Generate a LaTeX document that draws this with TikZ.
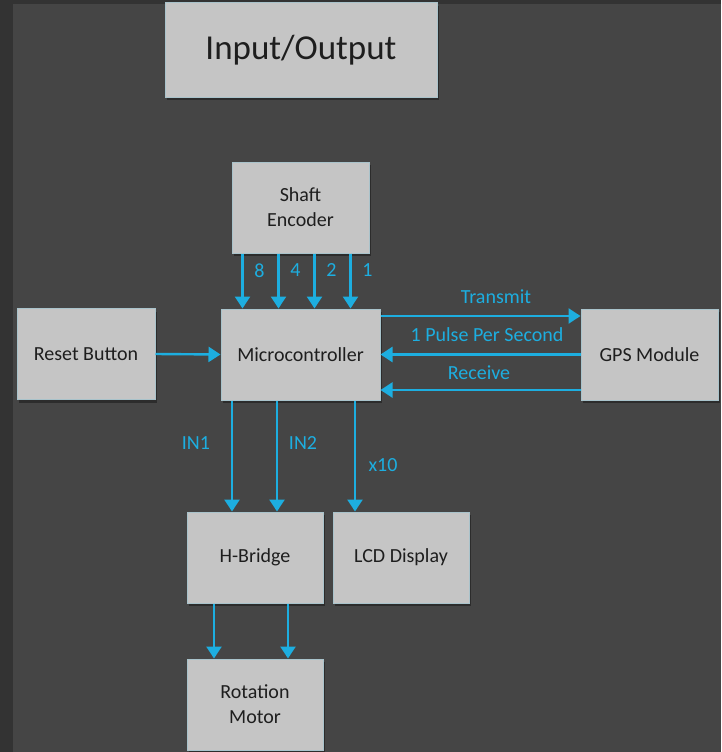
\documentclass[tikz,border=0pt]{standalone}
\usepackage{fontspec}
\setmainfont{Carlito}
\usetikzlibrary{arrows.meta,shadows}
\definecolor{bgdark}{HTML}{454545}
\definecolor{bgedge}{HTML}{333333}
\definecolor{boxfill}{HTML}{C5C5C5}
\definecolor{boxedge}{HTML}{A9C3CB}
\definecolor{wire}{HTML}{1DAEE0}
\definecolor{boxtext}{HTML}{1E1E1E}
\begin{document}
\begin{tikzpicture}[x=1pt,y=-1pt,
    block/.style={draw=boxedge, line width=1pt, fill=boxfill, text=boxtext,
      minimum width=137pt, minimum height=91pt, inner sep=2pt, align=center,
      font=\fontsize{20}{25}\selectfont,
      drop shadow={shadow xshift=2pt, shadow yshift=-3pt, fill=black, opacity=0.35}},
    arr/.style={draw=wire, line width=2.4pt, -{Triangle[length=12pt,width=15pt]}},
    lbl/.style={text=wire, font=\fontsize{20}{24}\selectfont, inner sep=1pt}]
    \fill[bgedge] (0,0) rectangle (721,752);
    \fill[bgdark] (13,4) rectangle (721,752);
    \useasboundingbox (0,0) rectangle (721,752);
    \node[block, minimum width=272pt, minimum height=94pt, font=\fontsize{35}{40}\selectfont] (io) at (301,50) {Input/Output};
    \node[block] (enc) at (300.5,207.5) {Shaft\\Encoder};
    \node[block, minimum width=159pt] (mcu) at (300.5,354.5) {Microcontroller};
    \node[block, minimum width=138pt] (reset) at (86,354) {Reset Button};
    \node[block] (gps) at (649.5,354.5) {GPS Module};
    \node[block, minimum width=136pt] (hb) at (255,557.5) {H-Bridge};
    \node[block, minimum width=136pt] (lcd) at (401,557.5) {LCD Display};
    \node[block, minimum width=136pt] (motor) at (255,704.5) {Rotation\\Motor};
    \foreach \dx/\bit in {-58/8,-22/4,14/2,50/1} {
      \draw[arr] ([xshift=\dx pt]enc.south) -- ([xshift=\dx pt]mcu.north);
      \node[lbl] at ([xshift=\dx pt+17pt, yshift=-17pt]enc.south) {\bit};
    }
    \draw[arr] (reset.east) -- (mcu.west);
    \coordinate (tx) at ([yshift=38.5pt]gps.west);
    \coordinate (rx) at ([yshift=-35.5pt]gps.west);
    \draw[arr] (mcu.east |- tx) -- (tx);
    \draw[arr] (gps.west) -- (mcu.east |- gps.west);
    \draw[arr] (rx) -- (mcu.east |- rx);
    \node[lbl] at (496,297) {Transmit};
    \node[lbl] at (487,335) {1 Pulse Per Second};
    \node[lbl] at (479,373) {Receive};
    \coordinate (in1) at ([xshift=-23pt]hb.north);
    \coordinate (in2) at ([xshift=22pt]hb.north);
    \coordinate (seg) at ([xshift=-46pt]lcd.north);
    \draw[arr] (mcu.south -| in1) -- (in1);
    \draw[arr] (mcu.south -| in2) -- (in2);
    \draw[arr] (mcu.south -| seg) -- (seg);
    \node[lbl] at (196,443) {IN1};
    \node[lbl] at (303,443) {IN2};
    \node[lbl] at (383,465) {x10};
    \draw[arr] ([xshift=-41pt]hb.south) -- ([xshift=-41pt]motor.north);
    \draw[arr] ([xshift=33pt]hb.south) -- ([xshift=33pt]motor.north);
\end{tikzpicture}
\end{document}
